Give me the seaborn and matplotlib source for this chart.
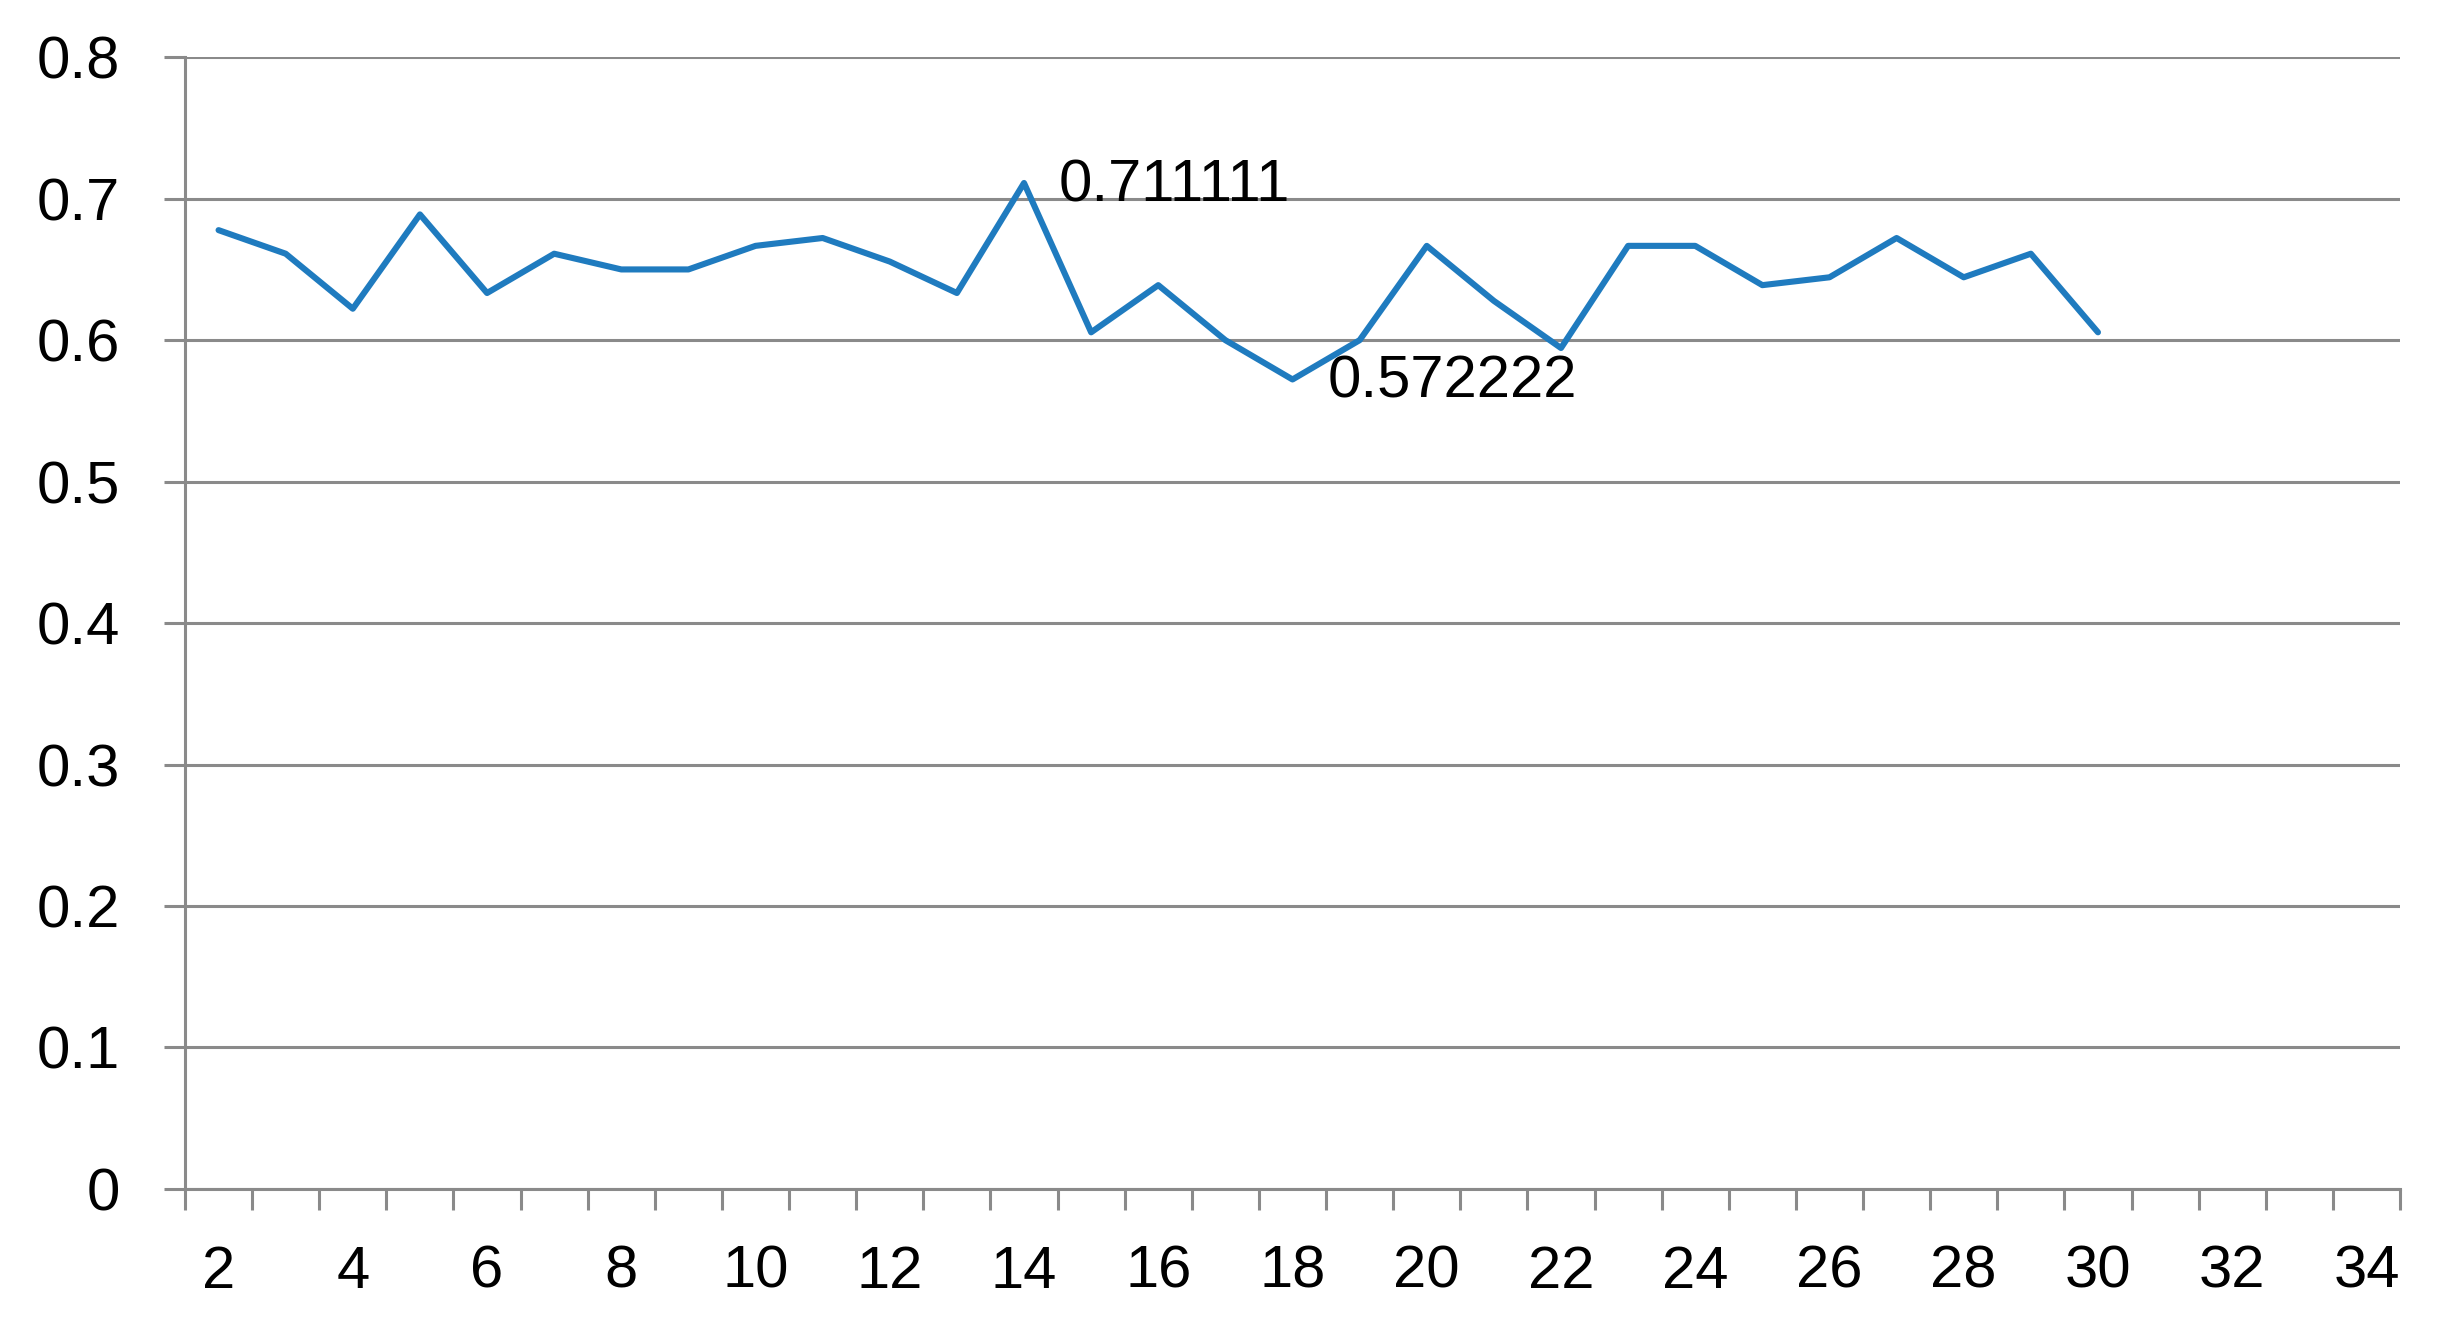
import matplotlib
matplotlib.use("Agg")
import matplotlib.pyplot as plt
import seaborn as sns
import pandas as pd
from matplotlib.ticker import FixedLocator

# values (x = number, y = score)
x_values = [2, 3, 4, 5, 6, 7, 8, 9, 10, 11, 12, 13, 14, 15, 16,
            17, 18, 19, 20, 21, 22, 23, 24, 25, 26, 27, 28, 29, 30]
scores = [0.677778, 0.661111, 0.622222, 0.688889, 0.633333, 0.661111, 0.65, 0.65,
          0.666667, 0.672222, 0.655556, 0.633333, 0.711111, 0.605556, 0.638889,
          0.6, 0.572222, 0.6, 0.666667, 0.627778, 0.594444, 0.666667, 0.666667,
          0.638889, 0.644444, 0.672222, 0.644444, 0.661111, 0.605556]
x_ticks = [2, 4, 6, 8, 10, 12, 14, 16, 18, 20, 22, 24, 26, 28, 30, 32, 34]
x_tick_labels = ['2', '4', '6', '8', '10', '12', '14', '16', '18', '20',
                 '22', '24', '26', '28', '30', '32', '34']
y_ticks = [0, 0.1, 0.2, 0.3, 0.4, 0.5, 0.6, 0.7, 0.8]
y_tick_labels = ['0', '0.1', '0.2', '0.3', '0.4', '0.5', '0.6', '0.7', '0.8']

sns.set_style('white')
plt.rcParams['font.family'] = ['Liberation Sans', 'DejaVu Sans']
plt.rcParams['text.color'] = 'black'
plt.rcParams['xtick.color'] = 'black'
plt.rcParams['ytick.color'] = 'black'

grey = '#8a8a8a'
blue = '#1f7bbf'

fig = plt.figure(figsize=(24.44, 13.28), dpi=100)
ax = fig.add_axes([0.0757, 0.1047, 0.9063, 0.8522])

df = pd.DataFrame({'n': x_values, 'score': scores})
sns.lineplot(data=df, x='n', y='score', ax=ax, color=blue, linewidth=4.4)

ax.set_xlim(x_ticks[0] - 0.5, x_ticks[-1] + 0.5)
ax.set_ylim(y_ticks[0], y_ticks[-1])
ax.set_xlabel('')
ax.set_ylabel('')

ax.set_yticks(y_ticks)
ax.set_yticklabels(y_tick_labels)
ax.set_xticks(x_ticks)
ax.set_xticklabels(x_tick_labels)
# tick marks between categories, like excel
bounds = [x_ticks[0] - 0.5 + i for i in range(x_ticks[-1] - x_ticks[0] + 2)]
ax.xaxis.set_minor_locator(FixedLocator(bounds))

ax.grid(axis='y', color=grey, linewidth=2.2)
ax.grid(axis='x', visible=False)
ax.set_axisbelow(True)
for s in ['top', 'right']:
    ax.spines[s].set_visible(False)
for s in ['left', 'bottom']:
    ax.spines[s].set_color(grey)
    ax.spines[s].set_linewidth(2.2)

ax.tick_params(axis='y', which='major', length=15, width=2.2, color=grey,
               labelcolor='black', labelsize=43, pad=32, left=True)
ax.tick_params(axis='x', which='major', length=0, labelcolor='black',
               labelsize=43, pad=40)
ax.tick_params(axis='x', which='minor', length=15, width=2.2, color=grey, bottom=True)

# max / min data labels
i_max = scores.index(max(scores))
i_min = scores.index(min(scores))
for i in [i_max, i_min]:
    ax.annotate('%.6f' % scores[i], xy=(x_values[i], scores[i]), xytext=(25, -2),
                textcoords='offset points', ha='left', va='center',
                fontsize=43, color='black')

fig.savefig('out.png', dpi=100)
